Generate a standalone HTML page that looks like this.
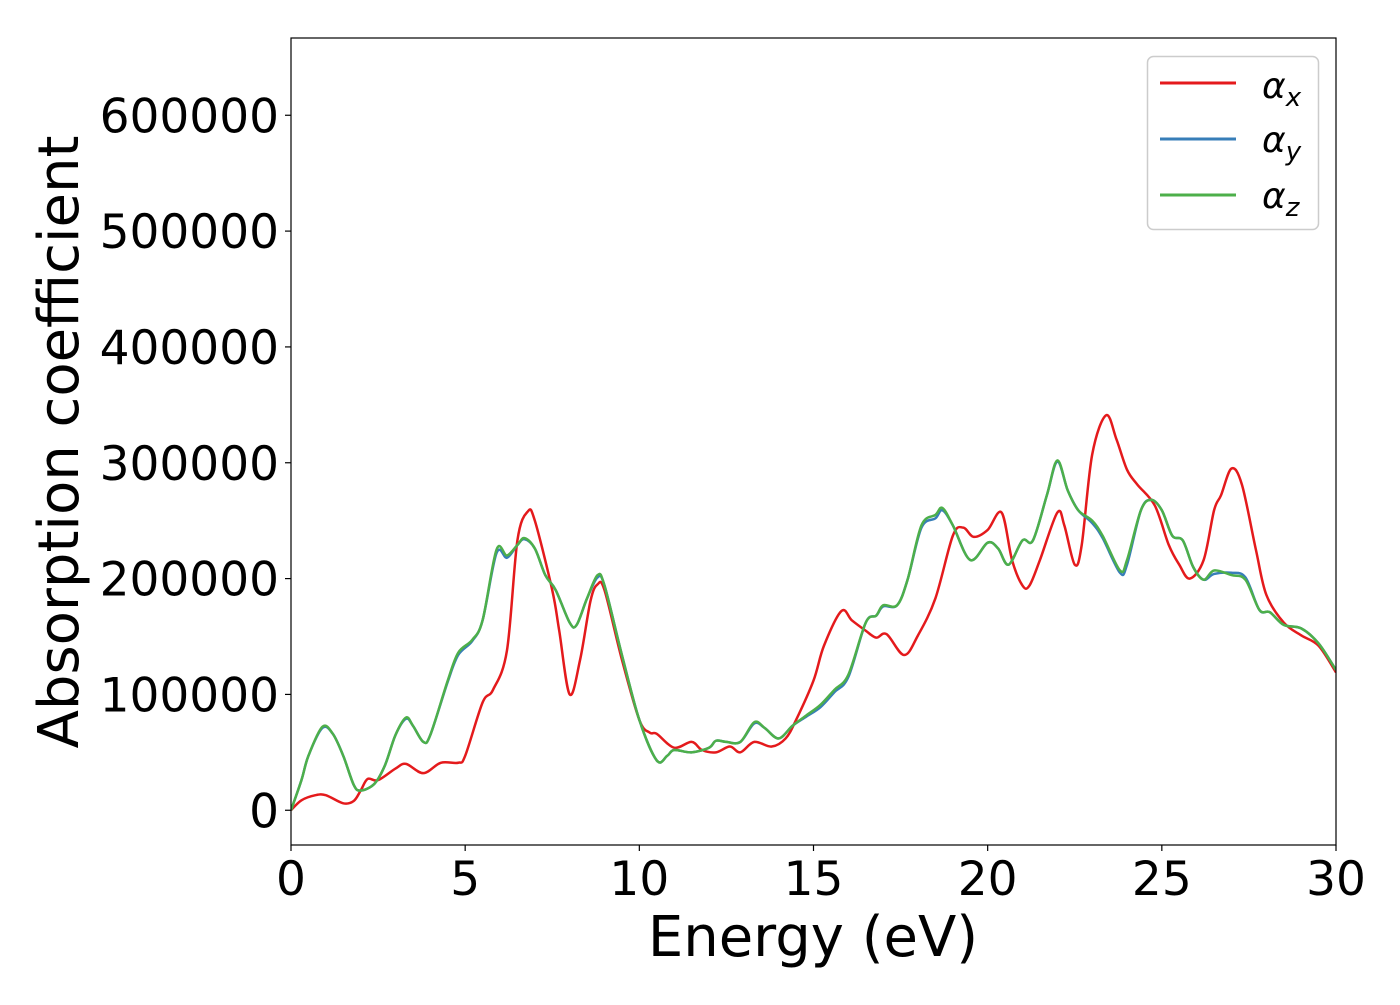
<!DOCTYPE html>
<html><head><meta charset="utf-8"><style>
html,body{margin:0;padding:0;background:#fff;}
svg text{font-family:"DejaVu Sans","Liberation Sans",sans-serif;fill:#000;}
</style></head><body>
<svg width="1400" height="1000" viewBox="0 0 1400 1000">
<g id="plot"></g>
<g id="axes"></g>
<g id="legend">
<rect x="1147.5" y="56.5" width="171" height="173" rx="6" fill="#fff" stroke="#ccc" stroke-width="1.5"/>
<g><line x1="1160" y1="83" x2="1236" y2="83" stroke="#e41a1c" stroke-width="3"/><text x="1262" y="98" font-size="36" font-style="italic">α<tspan font-size="26" dy="8">x</tspan></text></g>
<g><line x1="1160" y1="139" x2="1236" y2="139" stroke="#377eb8" stroke-width="3"/><text x="1262" y="152" font-size="36" font-style="italic">α<tspan font-size="26" dy="8">y</tspan></text></g>
<g><line x1="1160" y1="195" x2="1236" y2="195" stroke="#4daf4a" stroke-width="3"/><text x="1262" y="208" font-size="36" font-style="italic">α<tspan font-size="26" dy="8">z</tspan></text></g>
</g>
<text x="813" y="956" font-size="56" text-anchor="middle">Energy (eV)</text>
<text transform="translate(78,442) rotate(-90)" font-size="56" text-anchor="middle">Absorption coefficient</text>
</svg>
<script>
const xTicks=[0,5,10,15,20,25,30];
const yTicks=[0,100000,200000,300000,400000,500000,600000];
const redE=[0,0.3,0.7,1.0,1.5,1.8,2.0,2.2,2.5,3.0,3.3,3.8,4.3,4.8,5.0,5.5,5.8,6.2,6.5,6.8,7.0,7.5,7.7,8.0,8.3,8.6,8.8,9.0,9.5,10.0,10.3,10.5,11.0,11.5,11.8,12.2,12.6,12.9,13.3,13.8,14.2,14.5,15.0,15.3,15.8,16.1,16.5,16.8,17.1,17.6,18.0,18.5,19.0,19.3,19.6,20.0,20.4,20.7,21.0,21.2,21.5,22.0,22.2,22.5,22.7,23.0,23.4,23.7,24.0,24.3,24.8,25.2,25.5,25.8,26.2,26.5,26.7,27.0,27.3,27.7,28.0,28.5,29.0,29.5,30.0];
const redV=[0,8600,13000,13000,6000,8000,17000,27000,26000,36000,40000,32000,41000,41000,47000,93000,104000,138000,233000,258000,250000,190000,155000,100000,130000,181000,195000,190000,130000,78000,67000,66000,54000,59000,52000,50000,55000,50000,59000,55000,62000,78000,112000,142000,172000,164000,155000,149000,152000,134000,151000,183000,237000,244000,236000,242000,257000,216000,194000,194000,216000,257000,246000,212000,229000,307000,341000,320000,294000,281000,263000,229000,212000,200000,216000,259000,272000,295000,281000,225000,186000,162000,151000,142000,119000];
const gE=[0,0.3,0.5,0.9,1.2,1.5,1.8,2.0,2.4,2.7,3.0,3.3,3.5,3.8,4.0,4.5,4.8,5.2,5.5,5.9,6.2,6.5,6.7,7.0,7.3,7.6,8.0,8.2,8.5,8.8,9.0,9.5,10.0,10.5,10.8,11.0,11.5,12.0,12.2,12.5,12.9,13.3,13.6,14.0,14.4,14.8,15.2,15.6,16.0,16.5,16.8,17.0,17.4,17.7,18.1,18.5,18.7,19.0,19.5,20.0,20.3,20.6,21.0,21.3,21.7,22.0,22.3,22.6,23.0,23.3,23.8,24.0,24.4,24.7,25.0,25.3,25.6,25.9,26.2,26.5,27.0,27.4,27.8,28.1,28.5,29.0,29.5,30.0];
const greenV=[0,26000,47000,72000,66000,47000,22000,17000,23000,39000,65000,80000,73000,59000,65000,112000,136000,147000,164000,225000,220000,229000,235000,226000,203000,190000,162000,160000,183000,203000,194000,134000,78000,43000,47000,52000,50000,54000,60000,59000,59000,76000,71000,62000,73000,82000,91000,104000,117000,162000,168000,177000,177000,199000,246000,255000,261000,246000,216000,231000,226000,212000,233000,233000,272000,302000,276000,259000,250000,237000,207000,216000,259000,268000,259000,237000,233000,210000,199000,207000,203000,199000,173000,171000,160000,157000,144000,121000];
const blueV=[0,26000,47000,71000,66000,47000,22000,17000,23000,39000,65000,79000,73000,59000,65000,111000,134000,146000,164000,222000,218000,229000,234000,226000,203000,190000,162000,160000,183000,201000,194000,134000,78000,43000,47000,52000,50000,54000,60000,59000,59000,75000,71000,62000,73000,81000,89000,102000,115000,162000,168000,176000,177000,199000,244000,252000,259000,246000,216000,231000,226000,212000,233000,233000,272000,301000,276000,259000,248000,235000,205000,212000,259000,268000,259000,237000,233000,210000,199000,204000,205000,201000,173000,171000,160000,157000,144000,121000];
const X0=291,X1=1336,Y0=845,YT=38;
const xmin=0,xmax=30,ymin=-30000,ymax=666700;
function sx(v){return X0+(v-xmin)/(xmax-xmin)*(X1-X0);}
function sy(v){return Y0-(v-ymin)/(ymax-ymin)*(Y0-YT);}
const NS='http://www.w3.org/2000/svg';
function mk(t,a,p){const e=document.createElementNS(NS,t);for(const k in a)e.setAttribute(k,a[k]);p.appendChild(e);return e;}
function pathD(xs,ys){const p=xs.map((x,i)=>[sx(x),sy(ys[i])]);let d='M'+p[0][0].toFixed(2)+','+p[0][1].toFixed(2);
for(let i=0;i<p.length-1;i++){const a=p[Math.max(i-1,0)],b=p[i],c=p[i+1],e=p[Math.min(i+2,p.length-1)];
const c1=[b[0]+(c[0]-a[0])/6,b[1]+(c[1]-a[1])/6],c2=[c[0]-(e[0]-b[0])/6,c[1]-(e[1]-b[1])/6];
d+='C'+c1.map(v=>v.toFixed(2)).join(',')+' '+c2.map(v=>v.toFixed(2)).join(',')+' '+c[0].toFixed(2)+','+c[1].toFixed(2);}return d;}
const plot=document.getElementById('plot'),axes=document.getElementById('axes');
const clip=mk('clipPath',{id:'cp'},plot);mk('rect',{x:X0,y:YT,width:X1-X0,height:Y0-YT},clip);
const series=[[redE,redV,'#e41a1c','line-alpha-x'],[gE,blueV,'#377eb8','line-alpha-y'],[gE,greenV,'#4daf4a','line-alpha-z']];
series.forEach(s=>{const el=mk('path',{d:pathD(s[0],s[1]),fill:'none',stroke:s[2],'stroke-width':2.5,'clip-path':'url(#cp)'},plot);

});
const fr=mk('rect',{x:X0,y:YT,width:X1-X0,height:Y0-YT,fill:'none',stroke:'#000','stroke-width':1.2},axes);


xTicks.forEach(t=>{const x=sx(t);mk('line',{x1:x,y1:Y0,x2:x,y2:Y0+6,stroke:'#000','stroke-width':1.2},axes);
const tx=mk('text',{x:x,y:Y0+50,'font-size':47,'text-anchor':'middle'},axes);tx.textContent=t;

});
yTicks.forEach(t=>{const y=sy(t);mk('line',{x1:X0-6,y1:y,x2:X0,y2:y,stroke:'#000','stroke-width':1.2},axes);
const tx=mk('text',{x:X0-12,y:y+17,'font-size':47,'text-anchor':'end'},axes);tx.textContent=t;

});
</script>
</body></html>
